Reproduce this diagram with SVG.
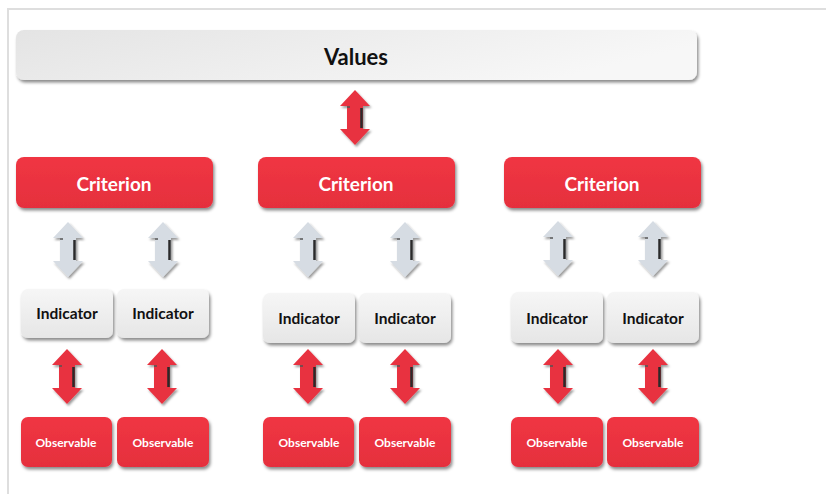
<svg xmlns="http://www.w3.org/2000/svg" width="826" height="494" viewBox="0 0 826 494">
  <defs>
    <linearGradient id="gValues" x1="0" y1="0" x2="1" y2="0.3">
      <stop offset="0" stop-color="#e4e4e4"/>
      <stop offset="1" stop-color="#f7f7f7"/>
    </linearGradient>
    <linearGradient id="gGray" x1="0" y1="0" x2="0" y2="1">
      <stop offset="0" stop-color="#f6f6f6"/>
      <stop offset="1" stop-color="#e6e6e6"/>
    </linearGradient>
    <linearGradient id="gRed" x1="0" y1="0" x2="0" y2="1">
      <stop offset="0" stop-color="#f03643"/>
      <stop offset="1" stop-color="#e52f3d"/>
    </linearGradient>
    <filter id="shadow" x="-10%" y="-20%" width="125%" height="150%">
      <feDropShadow dx="1.5" dy="2.5" stdDeviation="1.4" flood-color="#000" flood-opacity="0.45"/>
    </filter>
    <filter id="ashadow" x="-40%" y="-20%" width="190%" height="150%">
      <feDropShadow dx="1.5" dy="2" stdDeviation="1.2" flood-color="#000" flood-opacity="0.4"/>
    </filter>
    <!-- double-headed arrow centred on x=0, spanning y=0..55, with a bevel edge on the shaft -->
    <g id="arrow">
      <path d="M0,0 L15,16 L8,16 L8,39 L15,39 L0,55 L-15,39 L-8,39 L-8,16 L-15,16 Z"/>
      <line x1="6.5" y1="18" x2="6.5" y2="38" stroke="#2a2a2a" stroke-width="2.5"/>
      <line x1="-8" y1="17" x2="-5" y2="17" stroke="#555" stroke-width="1.5"/>
    </g>
  </defs>
  <style>
    .frame { fill: none; stroke: #dedede; stroke-width: 2; }
    .values { fill: url(#gValues); filter: url(#shadow); }
    .gray { fill: url(#gGray); filter: url(#shadow); }
    .red { fill: url(#gRed); filter: url(#shadow); }
    .redArrow { fill: #e8313f; filter: url(#ashadow); }
    .grayArrow { fill: #d6dce3; filter: url(#ashadow); }
    text { font-family: Lato, "Open Sans", "Liberation Sans", sans-serif; font-weight: bold; text-anchor: middle; dominant-baseline: central; }
    .tValues { font-size: 22px; fill: #111; }
    .tCrit { font-size: 19px; fill: #ffffff; }
    .tInd { font-size: 15.5px; fill: #111; }
    .tObs { font-size: 12px; fill: #ffffff; }
  </style>

  <rect width="826" height="494" fill="#ffffff"/>
  <path class="frame" d="M826,9 L8,9 L8,494"/>

  <g id="values">
    <rect class="values" x="16" y="30" width="681" height="50" rx="8"/>
    <text class="tValues" x="356" y="56">Values</text>
  </g>

  <g id="criterion-1">
    <rect class="red" x="16" y="157" width="197" height="51" rx="8"/>
    <text class="tCrit" x="114" y="183">Criterion</text>
  </g>
  <g id="criterion-2">
    <rect class="red" x="258" y="157" width="197" height="51" rx="8"/>
    <text class="tCrit" x="356" y="183">Criterion</text>
  </g>
  <g id="criterion-3">
    <rect class="red" x="504" y="157" width="197" height="51" rx="8"/>
    <text class="tCrit" x="602" y="183">Criterion</text>
  </g>

  <g id="indicator-1a">
    <rect class="gray" x="21" y="289" width="92" height="49" rx="7"/>
    <text class="tInd" x="67" y="313">Indicator</text>
  </g>
  <g id="indicator-1b">
    <rect class="gray" x="117" y="289" width="92" height="49" rx="7"/>
    <text class="tInd" x="163" y="313">Indicator</text>
  </g>
  <g id="indicator-2a">
    <rect class="gray" x="263" y="293" width="92" height="50" rx="7"/>
    <text class="tInd" x="309" y="318">Indicator</text>
  </g>
  <g id="indicator-2b">
    <rect class="gray" x="359" y="293" width="92" height="50" rx="7"/>
    <text class="tInd" x="405" y="318">Indicator</text>
  </g>
  <g id="indicator-3a">
    <rect class="gray" x="511" y="292" width="92" height="51" rx="7"/>
    <text class="tInd" x="557" y="318">Indicator</text>
  </g>
  <g id="indicator-3b">
    <rect class="gray" x="607" y="292" width="92" height="51" rx="7"/>
    <text class="tInd" x="653" y="318">Indicator</text>
  </g>

  <g id="observable-1a">
    <rect class="red" x="21" y="417" width="91" height="50" rx="7"/>
    <text class="tObs" x="66" y="442">Observable</text>
  </g>
  <g id="observable-1b">
    <rect class="red" x="117" y="417" width="92" height="50" rx="7"/>
    <text class="tObs" x="163" y="442">Observable</text>
  </g>
  <g id="observable-2a">
    <rect class="red" x="263" y="417" width="91" height="50" rx="7"/>
    <text class="tObs" x="309" y="442">Observable</text>
  </g>
  <g id="observable-2b">
    <rect class="red" x="359" y="417" width="92" height="50" rx="7"/>
    <text class="tObs" x="405" y="442">Observable</text>
  </g>
  <g id="observable-3a">
    <rect class="red" x="511" y="417" width="92" height="50" rx="7"/>
    <text class="tObs" x="557" y="442">Observable</text>
  </g>
  <g id="observable-3b">
    <rect class="red" x="607" y="417" width="92" height="50" rx="7"/>
    <text class="tObs" x="653" y="442">Observable</text>
  </g>

  <g id="connectors">
    <!-- values to criteria -->
    <use href="#arrow" class="redArrow" transform="translate(355,90)"/>
    <!-- criteria to indicators -->
    <use href="#arrow" class="grayArrow" transform="translate(68,222)"/>
    <use href="#arrow" class="grayArrow" transform="translate(163,222)"/>
    <use href="#arrow" class="grayArrow" transform="translate(308,222)"/>
    <use href="#arrow" class="grayArrow" transform="translate(405,222)"/>
    <use href="#arrow" class="grayArrow" transform="translate(558,221)"/>
    <use href="#arrow" class="grayArrow" transform="translate(653,221)"/>
    <!-- indicators to observables -->
    <use href="#arrow" class="redArrow" transform="translate(67,349)"/>
    <use href="#arrow" class="redArrow" transform="translate(162,349)"/>
    <use href="#arrow" class="redArrow" transform="translate(308,349)"/>
    <use href="#arrow" class="redArrow" transform="translate(405,349)"/>
    <use href="#arrow" class="redArrow" transform="translate(558,349)"/>
    <use href="#arrow" class="redArrow" transform="translate(653,349)"/>
  </g>
</svg>
